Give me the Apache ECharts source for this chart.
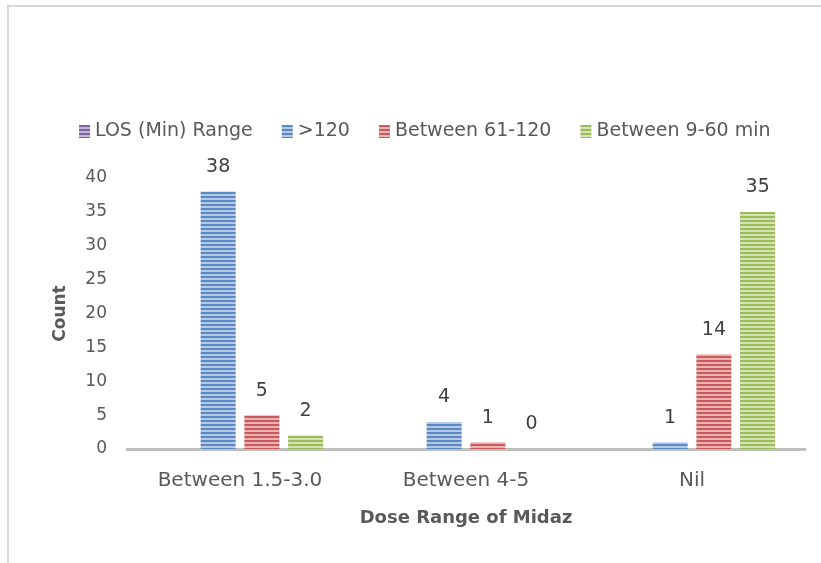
<!DOCTYPE html>
<html>
<head>
<meta charset="utf-8">
<script src="https://cdn.jsdelivr.net/npm/echarts@6/dist/echarts.min.js"></script>
<style>
  html, body { margin: 0; padding: 0; background: #fff; overflow: hidden; width: 821px; height: 563px; }
  #frame { position: absolute; left: 7px; top: 5px; width: 812px; height: 556px;
           border-top: 2px solid #d9d9d9; border-left: 2px solid #d9d9d9; }
  #chart { position: absolute; left: 0; top: 0; width: 821px; height: 563px; }
</style>
</head>
<body>
<div id="frame"></div>
<div id="chart"></div>
<script>
// data
const categories = ['Between 1.5-3.0', 'Between 4-5', 'Nil'];
const seriesNames = ['LOS (Min) Range', '>120', 'Between 61-120', 'Between 9-60 min'];
const losRange = [];
const over120 = [38, 4, 1];
const between61to120 = [5, 1, 14];
const between9to60 = [2, 0, 35];

const font = 'DejaVu Sans';

// horizontal stripe fill like the excel pattern
function stripes(dark, light) {
  const c = document.createElement('canvas');
  c.width = 4; c.height = 4;
  const ctx = c.getContext('2d');
  ctx.fillStyle = light;
  ctx.fillRect(0, 0, 4, 4);
  ctx.fillStyle = dark;
  ctx.fillRect(0, 0, 4, 2);
  return { image: c, repeat: 'repeat' };
}

const fills = [
  stripes('#8064a2', '#c3b4d6'),
  stripes('#5b87c2', '#b4c9e6'),
  stripes('#c9595a', '#e8b3b2'),
  stripes('#9bbb59', '#d3e3b4')
];

const values = [losRange, over120, between61to120, between9to60];

const chart = echarts.init(document.getElementById('chart'));
chart.setOption({
  backgroundColor: 'transparent',
  animation: false,
  textStyle: { fontFamily: font },
  legend: {
    left: 74, top: 117,
    icon: 'rect',
    itemWidth: 11, itemHeight: 13, itemGap: 29,
    textStyle: { fontSize: 19, color: '#595959', fontFamily: font },
    data: seriesNames
  },
  grid: { left: 127, right: 16, top: 178, bottom: 114 },
  xAxis: {
    type: 'category',
    data: categories,
    name: 'Dose Range of Midaz',
    nameLocation: 'middle',
    nameGap: 60,
    nameTextStyle: { fontSize: 18, fontWeight: 'bold', color: '#595959', fontFamily: font },
    axisLine: { lineStyle: { color: '#bfbfbf', width: 3 } },
    axisTick: { show: false },
    axisLabel: { fontSize: 20, color: '#595959', margin: 22 }
  },
  yAxis: {
    type: 'value',
    min: 0, max: 40, interval: 5,
    name: 'Count',
    nameLocation: 'middle',
    nameGap: 58,
    nameTextStyle: { fontSize: 17, fontWeight: 'bold', color: '#595959', fontFamily: font },
    axisLine: { show: false },
    axisTick: { show: false },
    splitLine: { show: false },
    axisLabel: { fontSize: 17, color: '#595959', margin: 20 }
  },
  series: seriesNames.map((name, i) => ({
    name: name,
    type: 'bar',
    data: values[i],
    barWidth: 35,
    barGap: '25%',
    itemStyle: { color: fills[i] },
    label: {
      show: true, position: 'top', distance: 15,
      fontSize: 19, color: '#404040', fontFamily: font
    }
  }))
});
</script>
</body>
</html>
